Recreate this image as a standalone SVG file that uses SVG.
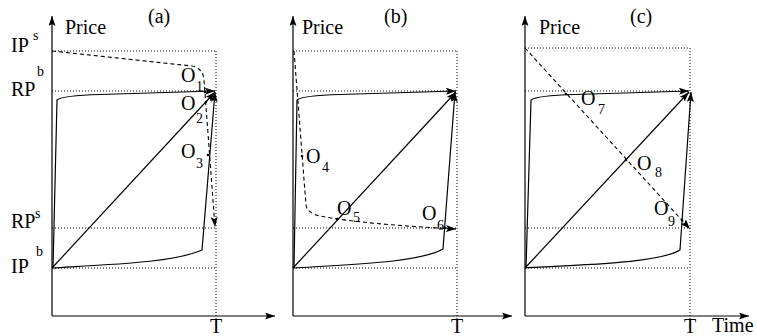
<svg xmlns="http://www.w3.org/2000/svg" width="757" height="336" viewBox="0 0 757 336">
<style>
text{font-family:"Liberation Serif","Times New Roman",serif;fill:#000}
.t{font-size:20px}
.s{font-size:14px}
.ax{stroke:#000;stroke-width:1.2;fill:none}
.dot{stroke:#000;stroke-width:1;stroke-dasharray:1 2;fill:none}
.sol{stroke:#000;stroke-width:1.2;fill:none}
.dash{stroke:#000;stroke-width:1.1;stroke-dasharray:4 3;fill:none}
.pt{fill:#000}
</style>
<defs>
<marker id="ah" markerUnits="userSpaceOnUse" markerWidth="11" markerHeight="8" refX="10" refY="3.5" orient="auto">
<path d="M0,0 L10,3.5 L0,7 L2,3.5 z" fill="#000"/>
</marker>
<marker id="ahd" markerUnits="userSpaceOnUse" markerWidth="11" markerHeight="8" refX="10" refY="3.5" orient="auto">
<path d="M0,0 L10,3.5 L0,7 L2,3.5 z" fill="#000"/>
</marker>
</defs>
<g id="labels-left">
<text class="t" x="11" y="52">IP</text><text class="s" x="33" y="40">s</text>
<text class="t" x="11" y="96">RP</text><text class="s" x="37" y="76">b</text>
<text class="t" x="11" y="228">RP</text><text class="s" x="35" y="218">s</text>
<text class="t" x="11" y="273">IP</text><text class="s" x="36" y="256">b</text>
<text class="t" x="712" y="332">Time</text>
</g>
<g id="panel-a">
<text class="t" x="148" y="23">(a)</text>
<text class="t" x="65" y="34">Price</text>
<text class="t" x="216" y="333" text-anchor="middle">T</text>
<path class="dot" d="M52,51H216M52,91H216M52,228H216M52,268H216M216,51V320"/>
<path class="ax" d="M52,316V16" marker-end="url(#ah)"/>
<path class="ax" d="M52,316H275" marker-end="url(#ah)"/>
<path class="sol" d="M53,268L57,100C62,96 80,95 100,94.5L215,91" marker-end="url(#ah)"/>
<path class="sol" d="M52,268L215,92" marker-end="url(#ah)"/>
<path class="sol" d="M52,268C120,264 175,262 202,250L215,92" marker-end="url(#ah)"/>
<path class="dash" d="M52,51L192,66Q203,68 204,80L215,227" marker-end="url(#ahd)"/>
<circle class="pt" cx="205" cy="92" r="1.3"/>
<circle class="pt" cx="206" cy="102" r="1.3"/>
<circle class="pt" cx="208" cy="155" r="1.3"/>
<text class="t" x="181" y="82">O</text><text class="s" x="196" y="91">1</text>
<text class="t" x="181" y="110">O</text><text class="s" x="196" y="123">2</text>
<text class="t" x="181" y="158">O</text><text class="s" x="196" y="168">3</text>
</g>
<g id="panel-b">
<text class="t" x="384" y="23">(b)</text>
<text class="t" x="302" y="34">Price</text>
<text class="t" x="457" y="333" text-anchor="middle">T</text>
<path class="dot" d="M293,51H457M293,91H457M293,228H457M293,268H457M457,51V320"/>
<path class="ax" d="M293,316V16" marker-end="url(#ah)"/>
<path class="ax" d="M293,316H512" marker-end="url(#ah)"/>
<path class="sol" d="M294,268L297,100C302,96 320,95 340,94.5L456,91" marker-end="url(#ah)"/>
<path class="sol" d="M293,268L456,92" marker-end="url(#ah)"/>
<path class="sol" d="M293,268C360,264 420,262 443,249L455,92" marker-end="url(#ah)"/>
<path class="dash" d="M294,51L306,205Q307,213 320,216C350,222 400,226 456,229" marker-end="url(#ahd)"/>
<circle class="pt" cx="302" cy="156" r="1.3"/>
<circle class="pt" cx="337" cy="219" r="1.3"/>
<circle class="pt" cx="445" cy="228" r="1.3"/>
<text class="t" x="306" y="163">O</text><text class="s" x="322" y="172">4</text>
<text class="t" x="337" y="215">O</text><text class="s" x="353" y="222">5</text>
<text class="t" x="422" y="220">O</text><text class="s" x="437" y="230">6</text>
</g>
<g id="panel-c">
<text class="t" x="630" y="23">(c)</text>
<text class="t" x="539" y="34">Price</text>
<text class="t" x="690" y="333" text-anchor="middle">T</text>
<path class="dot" d="M525,48H690M525,91H690M525,228H690M525,268H690M690,48V320"/>
<path class="ax" d="M525,316V16" marker-end="url(#ah)"/>
<path class="ax" d="M525,316H749" marker-end="url(#ah)"/>
<path class="sol" d="M526,268L531,100C536,96 555,95 575,94.5L689,91" marker-end="url(#ah)"/>
<path class="sol" d="M525,268L689,92" marker-end="url(#ah)"/>
<path class="sol" d="M525,268C600,264 660,262 680,250L691,92" marker-end="url(#ah)"/>
<path class="dash" d="M525,48L690,229" marker-end="url(#ahd)"/>
<circle class="pt" cx="566" cy="94" r="1.3"/>
<circle class="pt" cx="626" cy="160" r="1.3"/>
<circle class="pt" cx="682" cy="220" r="1.3"/>
<text class="t" x="581" y="105">O</text><text class="s" x="598" y="114">7</text>
<text class="t" x="637" y="170">O</text><text class="s" x="655" y="177">8</text>
<text class="t" x="654" y="215">O</text><text class="s" x="668" y="226">9</text>
</g>
</svg>
